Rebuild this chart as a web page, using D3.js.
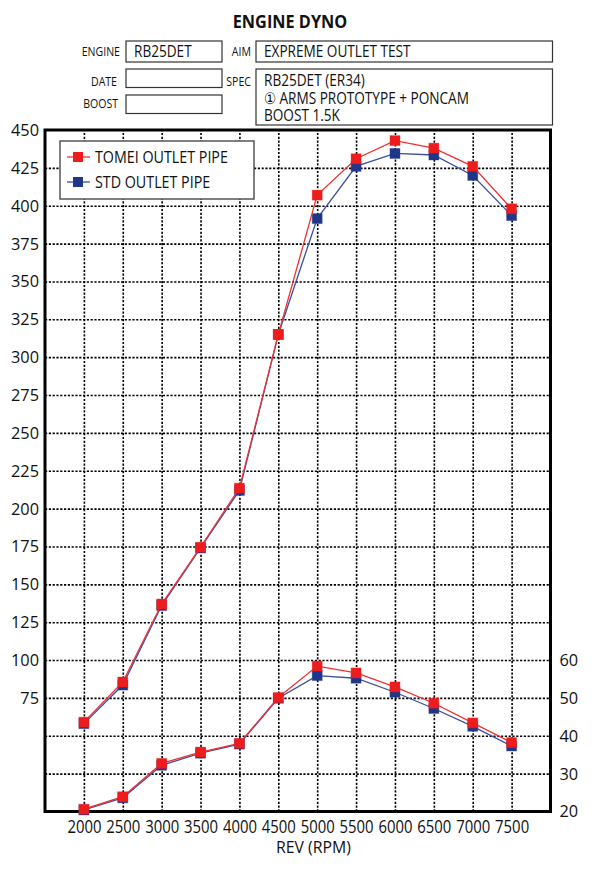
<!DOCTYPE html>
<html>
<head>
<meta charset="utf-8">
<script src="https://cdn.jsdelivr.net/npm/d3@7"></script>
<style>
  body { margin: 0; background: #fff; }
  svg text { font-family: "Open Sans", sans-serif; fill: #111; }
  .grid line { stroke: #000; stroke-width: 1.6; stroke-dasharray: 2.2,1.6; }
  .grid path { display: none; }
  .axis path, .axis line { display: none; }
</style>
</head>
<body>
<script>
const rpm = [2000, 2500, 3000, 3500, 4000, 4500, 5000, 5500, 6000, 6500, 7000, 7500]
const tomeiPower = [59, 85.5, 137, 174.5, 213.5, 315, 407, 431, 443, 438, 426, 398]
const stdPower = [58, 83.5, 136, 174, 212, 315, 391.5, 426, 434.5, 433.5, 420, 393.5]
const tomeiTorque = [20.6, 23.9, 32.7, 35.7, 38.0, 50.1, 58.4, 56.6, 52.9, 48.6, 43.4, 38.2]
const stdTorque = [20.4, 23.6, 32.2, 35.4, 37.8, 49.9, 55.9, 55.2, 51.5, 47.2, 42.5, 37.3]
const powerTicks = [75, 100, 125, 150, 175, 200, 225, 250, 275, 300, 325, 350, 375, 400, 425, 450]
const torqueTicks = [20, 30, 40, 50, 60]
const gridTicks = [25, 50, 75, 100, 125, 150, 175, 200, 225, 250, 275, 300, 325, 350, 375, 400, 425]
const seriesNames = ['TOMEI OUTLET PIPE', 'STD OUTLET PIPE']

const size = { width: 600, height: 874 }
const plot = { left: 45, right: 550.5, top: 130, bottom: 811.5 }
const red = '#ee1c1c'
const blue = '#1f3689'

const svg = d3.select('body').append('svg')
  .attr('width', size.width)
  .attr('height', size.height)

// squeeze text horizontally, the original uses a narrow face
function condense(sel, k) {
  sel.each(function() {
    const w = this.getComputedTextLength()
    d3.select(this).attr('textLength', w * k).attr('lengthAdjust', 'spacingAndGlyphs')
  })
}

// header
svg.append('text')
  .attr('x', 290).attr('y', 28)
  .attr('text-anchor', 'middle')
  .style('font-size', '17.5px').style('font-weight', 'bold')
  .text('ENGINE DYNO')
  .call(condense, 0.93)

function box(x, y, w, h) {
  svg.append('rect')
    .attr('x', x).attr('y', y).attr('width', w).attr('height', h)
    .attr('fill', 'none').attr('stroke', '#333').attr('stroke-width', 1.2)
}
function label(x, y, t) {
  svg.append('text').attr('x', x).attr('y', y)
    .attr('text-anchor', 'end')
    .style('font-size', '12px')
    .text(t)
    .call(condense, 0.88)
}
function value(x, y, t) {
  svg.append('text').attr('x', x).attr('y', y)
    .style('font-size', '16px')
    .text(t)
    .call(condense, 0.85)
}

label(120, 56, 'ENGINE')
box(126, 41, 96, 21)
value(134, 57, 'RB25DET')
label(251, 56, 'AIM')
box(256, 41, 296.5, 21)
value(264, 57, 'EXPREME OUTLET TEST')
label(117, 85.5, 'DATE')
box(126, 69, 96, 18.5)
label(251, 85.5, 'SPEC')
box(256, 69, 296.5, 56)
value(264, 86, 'RB25DET (ER34)')
value(264, 103.5, '① ARMS PROTOTYPE + PONCAM')
value(264, 121, 'BOOST 1.5K')
label(118, 107.5, 'BOOST')
box(126, 95, 96, 18.5)

// scales
const x = d3.scaleLinear().domain([1500, 8000]).range([plot.left, plot.right])
const y = d3.scaleLinear().domain([0, 450]).range([plot.bottom, plot.top])
const y2 = d3.scaleLinear().domain([20, 200]).range([plot.bottom, plot.top])

// grid
svg.append('g')
  .attr('class', 'grid')
  .attr('transform', 'translate(0,' + plot.bottom + ')')
  .call(d3.axisBottom(x).tickValues(rpm).tickSize(-(plot.bottom - plot.top)).tickFormat(''))

svg.append('g')
  .attr('class', 'grid')
  .attr('transform', 'translate(' + plot.left + ',0)')
  .call(d3.axisLeft(y).tickValues(gridTicks).tickSize(-(plot.right - plot.left)).tickFormat(''))

// axes labels
svg.append('g')
  .attr('class', 'axis')
  .attr('transform', 'translate(' + plot.left + ',0)')
  .call(d3.axisLeft(y).tickValues(powerTicks).tickSize(0).tickPadding(6))
  .selectAll('text').style('font-size', '17px').attr('fill', '#111')
  .call(condense, 0.96)

svg.append('g')
  .attr('class', 'axis')
  .attr('transform', 'translate(' + plot.right + ',0)')
  .call(d3.axisRight(y2).tickValues(torqueTicks).tickSize(0).tickPadding(9))
  .selectAll('text').style('font-size', '17px').attr('fill', '#111')
  .call(condense, 0.96)

svg.append('g')
  .attr('class', 'axis')
  .attr('transform', 'translate(0,' + plot.bottom + ')')
  .call(d3.axisBottom(x).tickValues(rpm).tickSize(0).tickPadding(9).tickFormat(d3.format('d')))
  .selectAll('text').style('font-size', '17.5px').attr('fill', '#111')
  .call(condense, 0.85)

svg.append('text')
  .attr('x', 313.5).attr('y', 852.5)
  .attr('text-anchor', 'middle')
  .style('font-size', '17px')
  .text('REV (RPM)')
  .call(condense, 0.93)

// frame
svg.append('rect')
  .attr('x', plot.left).attr('y', plot.top)
  .attr('width', plot.right - plot.left).attr('height', plot.bottom - plot.top)
  .attr('fill', 'none').attr('stroke', '#000').attr('stroke-width', 3)

// series
function series(vals, scale, color, lineColor) {
  const pts = rpm.map((r, i) => [x(r), scale(vals[i])])
  svg.append('path')
    .attr('d', d3.line()(pts))
    .attr('fill', 'none').attr('stroke', lineColor).attr('stroke-width', 1.3)
  svg.append('g').selectAll('rect')
    .data(pts).enter().append('rect')
    .attr('x', d => d[0] - 5).attr('y', d => d[1] - 5)
    .attr('width', 10).attr('height', 10)
    .attr('fill', color)
    .attr('stroke', color).attr('stroke-opacity', 0.35).attr('stroke-width', 1)
}
series(stdPower, y, blue, '#3a4fa0')
series(stdTorque, y2, blue, '#3a4fa0')
series(tomeiPower, y, red, '#f03030')
series(tomeiTorque, y2, red, '#f03030')

// legend
const legend = svg.append('g')
legend.append('rect')
  .attr('x', 60).attr('y', 141).attr('width', 194).attr('height', 58)
  .attr('fill', '#fff').attr('stroke', '#555').attr('stroke-width', 1.5)
const colors = [[red, '#f03030'], [blue, '#3a4fa0']]
seriesNames.forEach((n, i) => {
  const ly = 157 + i * 25
  legend.append('line')
    .attr('x1', 67).attr('x2', 90).attr('y1', ly).attr('y2', ly)
    .attr('stroke', colors[i][1]).attr('stroke-width', 1.3)
  legend.append('rect')
    .attr('x', 73).attr('y', ly - 5).attr('width', 10).attr('height', 10)
    .attr('fill', colors[i][0])
  legend.append('text')
    .attr('x', 95).attr('y', ly + 6)
    .style('font-size', '17px')
    .text(n)
    .call(condense, 0.84)
})
</script>
</body>
</html>
